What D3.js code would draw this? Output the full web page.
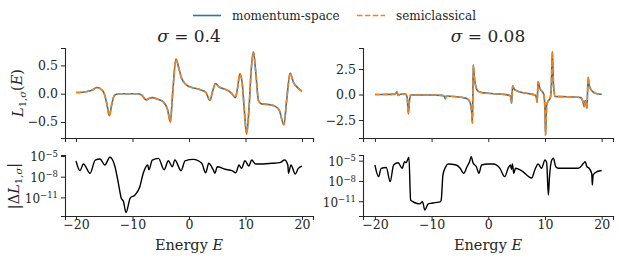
<!DOCTYPE html>
<html>
<head>
<meta charset="UTF-8">
<style>
  body { margin: 0; background: #fff; }
  svg { display: block; }
</style>
</head>
<body>
<svg></svg>
<script src="https://d3js.org/d3.v7.min.js"></script>
<script>

// sigma = 0.4, top panel
const e04 = [-20, -18, -17, -16.3, -15.5, -15, -14.5, -14.1, -13.7, -13.2, -12.5, -9, -8.3, -7.6, -7.0, -6.5, -5.5, -4.5, -3.8, -3.3, -2.9, -2.3, -1.8, -1.3, -0.5, 0.5, 2, 3, 3.7, 4.2, 4.7, 5.3, 6, 7, 7.6, 8.2, 8.6, 9.0, 9.4, 9.8, 10.2, 10.6, 11.0, 11.4, 11.8, 12.3, 12.8, 14, 15.2, 16, 16.8, 17.3, 17.9, 18.5, 19.1, 20];
const momentum04 = [0.02, 0.04, 0.07, 0.11, 0.07, 0.0, -0.2, -0.39, -0.2, -0.03, 0.0, 0.0, -0.03, -0.11, -0.08, -0.07, -0.1, -0.15, -0.28, -0.5, 0.0, 0.61, 0.45, 0.27, 0.16, 0.11, 0.07, 0.02, -0.12, 0.05, 0.18, 0.12, 0.09, 0.05, 0.0, -0.07, 0.1, 0.35, 0.2, -0.3, -0.71, -0.3, 0.4, 0.74, 0.4, -0.12, -0.18, -0.19, -0.22, -0.3, -0.55, -0.1, 0.36, 0.2, 0.12, 0.04];
const semi04 = momentum04.slice();

// sigma = 0.08, top panel
const e008 = [-20, -17, -16.4, -16.1, -15.9, -15.5, -14.6, -14.3, -14.1, -13.9, -13.7, -10, -8.2, -7.8, -7.6, -7.4, -6, -4.5, -3.6, -3.2, -2.95, -2.8, -2.72, -2.65, -2.4, -2.1, -1.8, -1.2, -0.05, 1.5, 3.0, 3.8, 4.0, 4.1, 4.2, 4.3, 4.6, 5.3, 7, 8.2, 8.5, 8.6, 8.7, 8.8, 9.1, 9.5, 9.8, 10.0, 10.1, 10.3, 10.6, 10.9, 11.1, 11.3, 11.5, 11.8, 14, 16.3, 16.7, 16.9, 17.1, 17.2, 17.4, 17.5, 17.6, 17.8, 18.3, 19, 20];
const momentum008 = [0, 0.02, 0.05, 0.27, -0.1, 0.02, 0.05, -0.3, -1.9, -0.6, -0.05, -0.05, -0.08, -0.15, -0.4, -0.15, -0.2, -0.3, -0.45, -0.8, -1.6, -2.8, 0.0, 2.9, 1.4, 0.6, 0.34, 0.2, 0.12, 0.06, 0.0, -0.1, -0.4, -0.86, 0.0, 0.86, 0.5, 0.3, 0.1, -0.05, -0.3, -0.77, 0.2, 1.25, 0.6, 0.3, 0.0, -1.5, -4.0, -1.0, -0.6, -0.4, 0.5, 4.2, 1.0, -0.2, -0.22, -0.3, -0.7, -1.2, -0.6, -0.8, -1.35, 0.0, 1.7, 0.9, 0.35, 0.1, 0.02];
const semi008 = momentum008.slice();

// |Delta L|, sigma = 0.4
const eDiff04 = [-20, -19.3, -18.7, -17.5, -16.6, -15.75, -14.9, -14.0, -13.1, -12.5, -12.0, -11.6, -11.15, -10.4, -9.56, -8.7, -8.1, -7.3, -7.1, -6.5, -5.4, -4.4, -3.66, -2.95, -2.5, -1.4, -0.7, 0.76, 2.25, 2.95, 3.5, 4.3, 4.6, 5.0, 6.4, 7.6, 8.3, 8.85, 9.3, 9.9, 10.6, 11.1, 11.8, 12.27, 14.6, 16.1, 16.9, 17.5, 17.6, 18.05, 18.8, 19.35, 20];
const diff04 = [1.9e-6, 7.4e-8, 6.9e-7, 3.2e-8, 2.6e-6, 3.7e-6, 5.0e-7, 6.5e-6, 2.8e-7, 1.1e-9, 7.9e-12, 2.5e-12, 6.3e-14, 7.9e-12, 2.2e-11, 3.5e-10, 3.2e-8, 5.0e-7, 1.0e-7, 2.6e-6, 4.6e-6, 1.0e-7, 2.1e-6, 2.8e-7, 2.6e-6, 7.4e-8, 2.0e-6, 3.2e-6, 8.7e-7, 3.8e-8, 8.7e-7, 9.3e-8, 3.2e-8, 2.8e-7, 1.2e-7, 7.4e-8, 3.8e-8, 5.0e-7, 1.6e-7, 2.1e-6, 3.5e-7, 2.6e-6, 6.9e-7, 6.9e-7, 8.7e-7, 1.1e-6, 2.6e-6, 5.0e-7, 3.2e-8, 5.0e-7, 2.5e-8, 1.6e-7, 3.5e-7];

// |Delta L|, sigma = 0.08
const eDiff008 = [-20, -19.35, -18.9, -18.0, -17.3, -16.7, -15.9, -15.2, -14.76, -14.5, -14.0, -13.7, -13.3, -12.7, -12.1, -11.6, -11.2, -10.6, -10.0, -9.4, -8.5, -8.3, -8.0, -7.5, -7.1, -5.65, -4.95, -4.35, -3.75, -3.3, -3.0, -2.7, -2.1, -1.65, -1.18, -0.06, 0.87, 2.05, 2.9, 3.5, 3.9, 4.1, 4.25, 4.5, 4.8, 5.85, 7.65, 8.24, 8.8, 9.4, 10.0, 10.3, 10.6, 10.8, 11.2, 11.5, 11.9, 12.35, 15.9, 16.8, 17.1, 17.4, 17.8, 18.25, 18.35, 18.5, 19.2, 20];
const diff008 = [2.3e-6, 4.3e-8, 7.4e-7, 1.0e-6, 7.9e-9, 2.3e-6, 5.0e-6, 7.4e-7, 7.1e-6, 5.0e-6, 3.2e-5, 1.6e-11, 8.5e-12, 5.0e-12, 4.0e-12, 8.5e-12, 5.0e-13, 4.0e-12, 5.0e-12, 6.3e-12, 7.9e-12, 1.6e-11, 7.9e-8, 1.26e-6, 3.2e-6, 2.3e-6, 7.4e-7, 1.35e-7, 1.26e-6, 7.1e-6, 4.0e-5, 5.0e-6, 1.26e-6, 1.35e-7, 2.3e-6, 3.2e-6, 3.2e-6, 7.4e-7, 4.3e-8, 7.4e-7, 2.3e-6, 5.0e-7, 3.2e-6, 1.35e-7, 7.4e-7, 3.5e-7, 2.7e-8, 5.0e-7, 3.2e-6, 7.4e-7, 1.26e-5, 5.0e-6, 7.9e-11, 4.3e-8, 1.26e-5, 2.3e-5, 1.26e-6, 7.4e-7, 7.4e-7, 4.0e-6, 7.1e-6, 1.26e-6, 7.4e-7, 1.1e-7, 2.5e-9, 7.9e-8, 2.5e-7, 3.5e-7];

const xTicks = [-20, -10, 0, 10, 20];
const ticks04 = [-0.5, 0.0, 0.5];
const ticks008 = [-2.5, 0.0, 2.5];
const logTicks = [-11, -8, -5];

const width = 619, height = 259;
const blue = "#1f77b4", orange = "#ff7f0e";
const serif = "DejaVu Serif";
const ink = "#262626";

const svg = d3.select("svg").attr("width", width).attr("height", height)
  .attr("font-family", serif);

const fmt = d => d3.format(".1f")(d).replace("-", "\u2212");

function panel(cfg) {
  const x = d3.scaleLinear().domain(cfg.xDomain).range([cfg.x0, cfg.x1]);
  const y = cfg.log
    ? d3.scaleLog().domain(cfg.yDomain).range([cfg.y1, cfg.y0])
    : d3.scaleLinear().domain(cfg.yDomain).range([cfg.y1, cfg.y0]);

  const g = svg.append("g");

  // x axis
  const xa = g.append("g").attr("transform", `translate(0,${cfg.y1})`)
    .call(d3.axisBottom(x).tickValues(xTicks).tickSize(4).tickPadding(2)
      .tickFormat(cfg.xLabels ? (d => String(d).replace("-", "\u2212")) : ""));
  // y axis
  const ya = g.append("g").attr("transform", `translate(${cfg.x0},0)`);
  if (cfg.log) {
    ya.call(d3.axisLeft(y).tickValues(logTicks.map(k => Math.pow(10, k))).tickSize(4).tickPadding(3).tickFormat(""));
    ya.selectAll(".tick").each(function (d, i) {
      const t = d3.select(this).append("text")
        .attr("x", -7).attr("dy", "0.4em").attr("text-anchor", "end")
        .attr("font-size", 12).attr("fill", ink);
      t.append("tspan").text("10");
      t.append("tspan").attr("dy", "-0.55em").attr("font-size", 8.5).text("\u2212" + Math.abs(logTicks[i]));
    });
  } else {
    ya.call(d3.axisLeft(y).tickValues(cfg.yTicks).tickSize(4).tickPadding(3).tickFormat(fmt));
  }
  [xa, ya].forEach(a => {
    a.attr("font-family", serif).attr("font-size", 12.5);
    a.select(".domain").attr("stroke", ink).attr("stroke-width", 1.1);
    a.selectAll(".tick line").attr("stroke", ink).attr("stroke-width", 1);
    a.selectAll(".tick text").attr("fill", ink);
  });
  xa.selectAll(".tick text").attr("dy", "0.55em");

  const line = (xs, ys) => d3.line()
    .x((d, i) => x(xs[i])).y(d => y(d))
    .curve(d3.curveMonotoneX)(ys);

  cfg.series.forEach(s => {
    g.append("path").attr("d", line(s.xs, s.ys))
      .attr("fill", "none").attr("stroke", s.color).attr("stroke-width", s.width)
      .attr("stroke-dasharray", s.dash || null).attr("stroke-linejoin", "round");
  });
  return { x, y, g };
}

const left = { xDomain: [-21.95, 21.95], x0: 65, x1: 313 };
const right = { xDomain: [-22.1, 22.0], x0: 363, x1: 613 };

panel(Object.assign({}, left, {
  y0: 48, y1: 138, yDomain: [-0.783, 0.807], yTicks: ticks04,
  series: [
    { xs: e04, ys: momentum04, color: blue, width: 1.6 },
    { xs: e04, ys: semi04, color: orange, width: 1.6, dash: "5.5,2.4" }
  ]
}));
panel(Object.assign({}, right, {
  y0: 48, y1: 138, yDomain: [-4.26, 4.56], yTicks: ticks008,
  series: [
    { xs: e008, ys: momentum008, color: blue, width: 1.6 },
    { xs: e008, ys: semi008, color: orange, width: 1.6, dash: "5.5,2.4" }
  ]
}));
panel(Object.assign({}, left, {
  y0: 155, y1: 216, log: true, yDomain: [2e-14, 1.4e-5], xLabels: true,
  series: [{ xs: eDiff04, ys: diff04, color: "#000", width: 1.4 }]
}));
panel(Object.assign({}, right, {
  y0: 155, y1: 216, log: true, yDomain: [6.5e-14, 6.9e-5], xLabels: true,
  series: [{ xs: eDiff008, ys: diff008, color: "#000", width: 1.4 }]
}));

// titles
[[189, "0.4"], [488, "0.08"]].forEach(([cx, v]) => {
  const t = svg.append("text").attr("x", cx).attr("y", 42).attr("text-anchor", "middle")
    .attr("font-size", 17).attr("fill", ink);
  t.append("tspan").attr("font-style", "italic").text("\u03c3");
  t.append("tspan").text(" = " + v);
});

// x labels
[189, 488].forEach(cx => {
  const t = svg.append("text").attr("x", cx).attr("y", 250).attr("text-anchor", "middle")
    .attr("font-size", 14.5).attr("fill", ink);
  t.append("tspan").text("Energy ");
  t.append("tspan").attr("font-style", "italic").text("E");
});

// y labels
const yl1 = svg.append("text").attr("transform", "translate(23,93) rotate(-90)")
  .attr("text-anchor", "middle").attr("font-size", 14.5).attr("fill", ink);
yl1.append("tspan").attr("font-style", "italic").text("L");
yl1.append("tspan").attr("dy", "0.3em").attr("font-size", 10).text("1,");
yl1.append("tspan").attr("font-size", 10).attr("font-style", "italic").text("\u03c3");
yl1.append("tspan").attr("dy", "-0.3em").text("(");
yl1.append("tspan").attr("font-style", "italic").text("E");
yl1.append("tspan").text(")");

const yl2 = svg.append("text").attr("transform", "translate(19,186) rotate(-90)")
  .attr("text-anchor", "middle").attr("font-size", 14.5).attr("fill", ink);
yl2.append("tspan").text("|\u0394");
yl2.append("tspan").attr("font-style", "italic").text("L");
yl2.append("tspan").attr("dy", "0.3em").attr("font-size", 10).text("1,");
yl2.append("tspan").attr("font-size", 10).attr("font-style", "italic").text("\u03c3");
yl2.append("tspan").attr("dy", "-0.3em").text("|");

// legend
const legend = svg.append("g");
[[193, "momentum-space", blue, null], [357, "semiclassical", orange, "5.5,2.4"]].forEach(([lx, label, c, dash]) => {
  legend.append("line").attr("x1", lx).attr("x2", lx + 28).attr("y1", 15.5).attr("y2", 15.5)
    .attr("stroke", c).attr("stroke-width", 1.6).attr("stroke-dasharray", dash);
  legend.append("text").attr("x", lx + 39).attr("y", 19.5).attr("font-size", 12).attr("fill", ink).text(label);
});
</script>
</body>
</html>
